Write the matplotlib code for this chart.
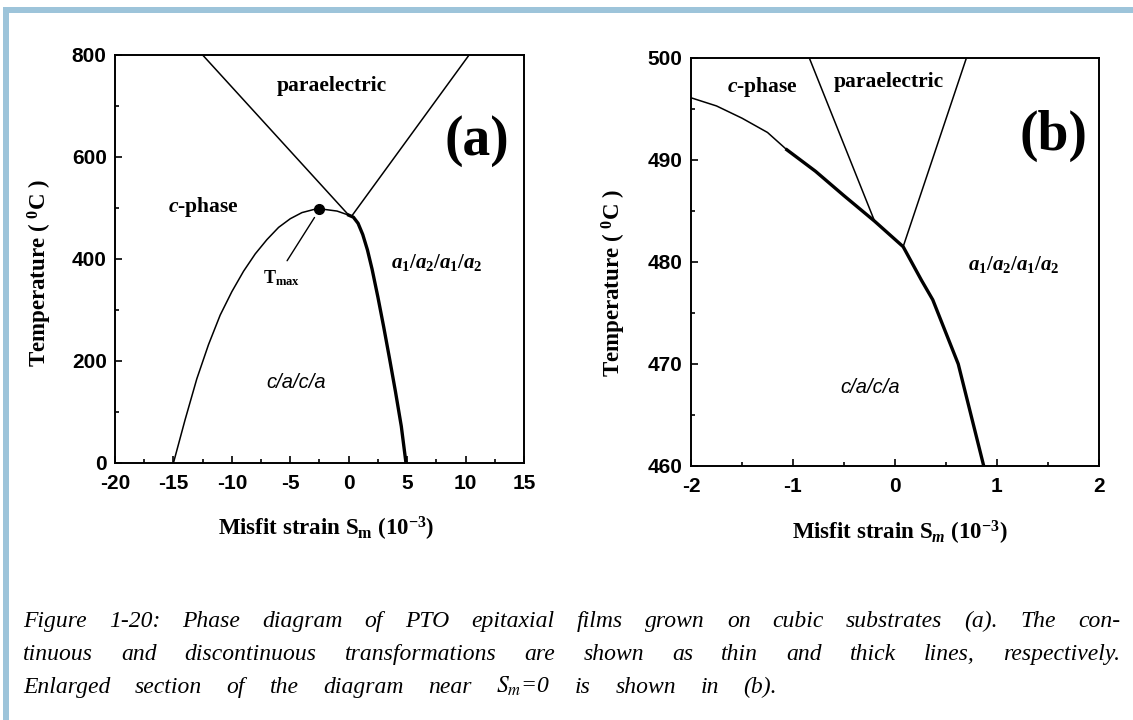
import matplotlib.pyplot as plt
from matplotlib.patches import Rectangle

plt.rcParams['axes.unicode_minus'] = False
plt.rcParams['mathtext.fontset'] = 'custom'
plt.rcParams['mathtext.rm'] = 'Liberation Serif:bold'
plt.rcParams['mathtext.it'] = 'Liberation Serif:italic:bold'
plt.rcParams['mathtext.bf'] = 'Liberation Serif:bold'

# ---- panel (a): full diagram, misfit strain in 1e-3, temperature in deg C
a_thin_strain = [-15.0, -14.0, -13.0, -12.0, -11.0, -10.0, -9.0, -8.0, -7.0, -6.0, -5.0, -4.0, -3.0, -2.5, -2.0, -1.0, 0.0]
a_thin_temp = [0, 85, 165, 232, 290, 336, 376, 410, 438, 462, 479, 491, 497, 498, 497, 494, 486]
a_thick_strain = [0.0, 0.4, 0.8, 1.2, 1.6, 2.0, 2.5, 3.0, 3.5, 4.0, 4.5, 4.9]
a_thick_temp = [486, 482, 470, 448, 418, 380, 325, 266, 204, 140, 72, 0]
a_para_left_strain = [-12.5, 0.0]
a_para_left_temp = [800, 486]
a_para_right_strain = [0.25, 10.3]
a_para_right_temp = [484, 800]
tmax_strain, tmax_temp = -2.5, 498

# ---- panel (b): enlarged section near Sm = 0
b_thin_strain = [-2.0, -1.75, -1.5, -1.25, -1.06]
b_thin_temp = [496.1, 495.3, 494.1, 492.7, 491.0]
b_thick_strain = [-1.06, -0.78, -0.5, -0.2, 0.08, 0.26, 0.37, 0.62, 0.87]
b_thick_temp = [491.0, 488.9, 486.5, 484.0, 481.5, 478.2, 476.3, 470.0, 460.0]
b_para_left_strain = [-0.84, -0.2]
b_para_left_temp = [500, 484.0]
b_para_right_strain = [0.70, 0.08]
b_para_right_temp = [500, 481.5]

caption_lines = [
    "Figure 1-20: Phase diagram of PTO epitaxial films grown on cubic substrates (a). The con-",
    "tinuous and discontinuous transformations are shown as thin and thick lines, respectively.",
    r"Enlarged section of the diagram near $S_m$=0 is shown in (b).",
]

W, H = 1133, 720
fig = plt.figure(figsize=(W / 100, H / 100), dpi=100)
fig.patch.set_facecolor('white')

# light blue frame on top and left
frame = '#9dc4da'
fig.add_artist(Rectangle((3 / W, 0), 6 / W, 713 / H, transform=fig.transFigure, color=frame, lw=0))
fig.add_artist(Rectangle((3 / W, 707 / H), 1130 / W, 6 / H, transform=fig.transFigure, color=frame, lw=0))

ax_a = fig.add_axes([115 / W, (H - 463) / H, 409 / W, 408 / H])
ax_b = fig.add_axes([691 / W, (H - 466) / H, 408 / W, 408 / H])

serif = 'Liberation Serif'
thin_lw, thick_lw = 1.1, 2.4


def style_axes(ax, xlim, ylim, xmajor, xminor, ymajor, yminor):
    ax.set_xlim(xlim)
    ax.set_ylim(ylim)
    ax.set_xticks(xmajor)
    ax.set_xticks(xminor, minor=True)
    ax.set_yticks(ymajor)
    ax.set_yticks(yminor, minor=True)
    ax.tick_params(which='both', direction='in', top=False, right=False, width=1.2)
    ax.tick_params(which='major', length=5, labelsize=15)
    ax.tick_params(axis='x', which='major', pad=8)
    ax.tick_params(axis='y', which='major', pad=6)
    ax.tick_params(which='minor', length=3)
    for lab in ax.get_xticklabels() + ax.get_yticklabels():
        lab.set_fontfamily('Liberation Sans')
        lab.set_fontweight('bold')
    for sp in ax.spines.values():
        sp.set_linewidth(1.4)


# panel (a)
ax = ax_a
ax.plot(a_thin_strain, a_thin_temp, color='black', lw=thin_lw)
ax.plot(a_thick_strain, a_thick_temp, color='black', lw=thick_lw)
ax.plot(a_para_left_strain, a_para_left_temp, color='black', lw=thin_lw)
ax.plot(a_para_right_strain, a_para_right_temp, color='black', lw=thin_lw)
ax.plot([tmax_strain], [tmax_temp], 'o', color='black', ms=7, zorder=5)
ax.annotate('', xy=(-2.8, 486), xytext=(-5.4, 392),
            arrowprops=dict(arrowstyle='-', color='black', lw=1.0))
ax.text(-7.3, 353, r'T$_{\rm max}$', family=serif, weight='bold', fontsize=13)
style_axes(ax, (-20, 15), (0, 800), range(-20, 16, 5), [-17.5, -12.5, -7.5, -2.5, 2.5, 7.5, 12.5],
           range(0, 801, 200), [100, 300, 500, 700])
ax.text(-1.43, 739, 'paraelectric', ha='center', va='center', family=serif, weight='bold', fontsize=15.5)
ax.text(11.0, 631, '(a)', ha='center', va='center', family=serif, weight='bold', fontsize=40)
ax.text(-12.4, 502, r'$c$-phase', ha='center', va='center', family=serif, weight='bold', fontsize=15.5)
ax.text(7.55, 394, r'$a_1/a_2/a_1/a_2$', ha='center', va='center', fontsize=15)
ax.text(-4.5, 157, 'c/a/c/a', ha='center', va='center', family='Liberation Sans', style='italic', fontsize=14.5)
ax.set_xlabel(r'Misfit strain S$_\mathrm{m}$ (10$^{-3}$)', family=serif, weight='bold', fontsize=16.5, va='center')
ax.set_ylabel(r'Temperature ( $^0$C )', family=serif, weight='bold', fontsize=16.5, va='center')
ax.xaxis.set_label_coords(0.516, -0.162)
ax.yaxis.set_label_coords(-0.183, 0.466)

# panel (b)
ax = ax_b
ax.plot(b_thin_strain, b_thin_temp, color='black', lw=thin_lw)
ax.plot(b_thick_strain, b_thick_temp, color='black', lw=thick_lw)
ax.plot(b_para_left_strain, b_para_left_temp, color='black', lw=thin_lw)
ax.plot(b_para_right_strain, b_para_right_temp, color='black', lw=thin_lw)
style_axes(ax, (-2, 2), (460, 500), range(-2, 3), [-1.5, -0.5, 0.5, 1.5],
           range(460, 501, 10), [465, 475, 485, 495])
ax.text(-1.30, 497.2, r'$c$-phase', ha='center', va='center', family=serif, weight='bold', fontsize=15.5)
ax.text(-0.06, 497.6, 'paraelectric', ha='center', va='center', family=serif, weight='bold', fontsize=15.5)
ax.text(1.55, 492.4, '(b)', ha='center', va='center', family=serif, weight='bold', fontsize=40)
ax.text(1.16, 479.8, r'$a_1/a_2/a_1/a_2$', ha='center', va='center', fontsize=15)
ax.text(-0.24, 467.7, 'c/a/c/a', ha='center', va='center', family='Liberation Sans', style='italic', fontsize=14.5)
ax.set_xlabel(r'Misfit strain S$_m$ (10$^{-3}$)', family=serif, weight='bold', fontsize=16.5, va='center')
ax.set_ylabel(r'Temperature ( $^0$C )', family=serif, weight='bold', fontsize=16.5, va='center')
ax.xaxis.set_label_coords(0.512, -0.164)
ax.yaxis.set_label_coords(-0.189, 0.449)

# caption: the lines are spread word by word over the widths seen in the reference
renderer = fig.canvas.get_renderer()
cap_kw = dict(family=serif, style='italic', fontsize=17, math_fontfamily='stix', va='baseline')
x_left = 23
line_ends = [1120, 1120, 777]
baselines = [627, 660, 693]
for line, base, x_right in zip(caption_lines, baselines, line_ends):
    words = line.split(' ')
    texts = [fig.text(0, (H - base) / H, w, **cap_kw) for w in words]
    widths = [t.get_window_extent(renderer).width for t in texts]
    gap = (x_right - x_left - sum(widths)) / (len(words) - 1)
    x = x_left
    for t, w in zip(texts, widths):
        t.set_x(x / W)
        x += w + gap

fig.savefig('out.png', dpi=100)
